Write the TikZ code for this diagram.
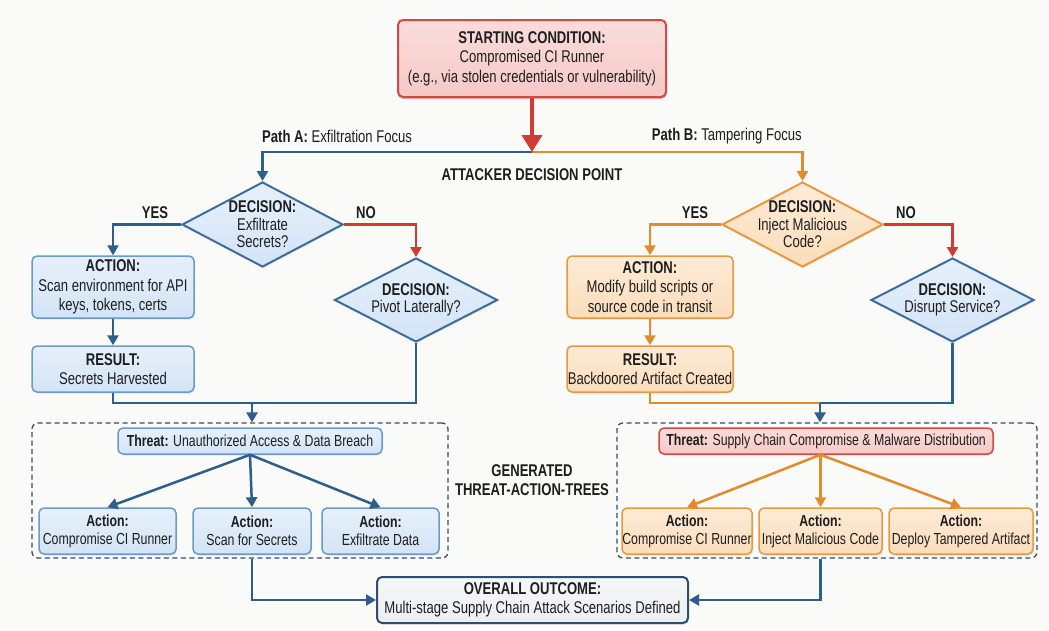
\documentclass[tikz,border=0pt]{standalone}
\usepackage{fontspec}
\setmainfont{Liberation Sans}[FakeStretch=0.77]
\usetikzlibrary{shapes.geometric,arrows.meta,shadows}

\definecolor{bgc}{HTML}{FAFAF9}
\definecolor{ink}{HTML}{1E1E1E}
\definecolor{blueline}{HTML}{2E5E8C}
\definecolor{bluefill}{HTML}{D3E4F6}
\definecolor{bluefilltop}{HTML}{E6F0FB}
\definecolor{blueedge}{HTML}{6B9BCB}
\definecolor{bluedia}{HTML}{3C6D9E}
\definecolor{orangeline}{HTML}{E38B2C}
\definecolor{orangefill}{HTML}{FBDDBB}
\definecolor{orangefilltop}{HTML}{FDEBD6}
\definecolor{orangeedge}{HTML}{E8993F}
\definecolor{redline}{HTML}{D33A33}
\definecolor{redfill}{HTML}{F5C9C7}
\definecolor{redfilltop}{HTML}{FADCDB}
\definecolor{rededge}{HTML}{D24A44}
\definecolor{grayfill}{HTML}{ECEEF1}
\definecolor{grayfilltop}{HTML}{F6F7F8}
\definecolor{darkedge}{HTML}{2F4F70}

\newcommand\fmain{\fontsize{17}{19.5}\selectfont}
\newcommand\fdia{\fontsize{17}{17.5}\selectfont}
\newcommand\fsmall{\fontsize{16}{18}\selectfont}

\tikzset{
  box/.style={rectangle, rounded corners=5pt, line width=1.5pt, align=center,
    inner sep=0pt, text=ink, font=\fmain,
    drop shadow={opacity=0.18, shadow xshift=1pt, shadow yshift=-1.5pt}},
  bluebox/.style={box, draw=blueedge, top color=bluefilltop, bottom color=bluefill},
  orangebox/.style={box, draw=orangeedge, top color=orangefilltop, bottom color=orangefill},
  redbox/.style={box, draw=rededge, top color=redfilltop, bottom color=redfill},
  graybox/.style={box, draw=darkedge, top color=grayfilltop, bottom color=grayfill},
  treebox/.style={font=\fsmall},
  dia/.style={diamond, inner sep=0pt, line width=2pt,
    drop shadow={opacity=0.15, shadow xshift=1pt, shadow yshift=-1.5pt}},
  bluedia/.style={dia, draw=bluedia, top color=bluefilltop, bottom color=bluefill},
  orangedia/.style={dia, draw=orangeedge, top color=orangefilltop, bottom color=orangefill},
  diatext/.style={align=center, text=ink, font=\fdia, inner sep=0pt},
  label/.style={text=ink, font=\fmain, inner sep=0pt},
  cont/.style={rectangle, rounded corners=6pt, draw=darkedge, line width=1.3pt,
    dash pattern=on 5pt off 3.5pt, inner sep=0pt},
  conn/.style={line width=2.5pt, -{Triangle[length=10pt,width=11pt]}},
  plain/.style={line width=2.5pt},
}

\begin{document}
\begin{tikzpicture}[x=1pt,y=-1pt]
  \fill[bgc] (0,0) rectangle (1049,630);
  \useasboundingbox (0,0) rectangle (1049,630);

  % starting condition
  \node[redbox, line width=2pt, minimum width=268pt, minimum height=77pt,
        drop shadow={opacity=0.3, fill=redline, shadow xshift=0pt, shadow yshift=-2pt}]
    (start) at (532,58.5)
    {\textbf{STARTING CONDITION:}\\Compromised CI Runner\\(e.g., via stolen credentials or vulnerability)};
  \coordinate (split) at (532,152);

  % path labels
  \node[label, anchor=west] (pathA) at (262,136) {\textbf{Path A:} Exfiltration Focus};
  \node[label, anchor=east] (pathB) at (802,136) {\textbf{Path B:} Tampering Focus};
  \node[label, font=\fmain\bfseries] (adp) at (532,175) {ATTACKER DECISION POINT};

  % decisions
  \node[bluedia, minimum width=161pt, minimum height=85pt] (d1) at (262.5,224.5) {};
  \node[diatext] (d1t) at (d1.center) {\textbf{DECISION:}\\Exfiltrate\\Secrets?};
  \node[bluedia, minimum width=163pt, minimum height=84pt] (d2) at (416,300) {};
  \node[diatext] (d2t) at (d2.center) {\textbf{DECISION:}\\Pivot Laterally?};
  \node[orangedia, minimum width=161pt, minimum height=85pt] (d3) at (802.5,224.5) {};
  \node[diatext] (d3t) at (d3.center) {\textbf{DECISION:}\\Inject Malicious\\Code?};
  \node[bluedia, minimum width=163pt, minimum height=84pt] (d4) at (952.5,300) {};
  \node[diatext] (d4t) at (d4.center) {\textbf{DECISION:}\\Disrupt Service?};

  % yes / no labels
  \node[label, font=\fmain\bfseries] (yesA) at (155,213) {YES};
  \node[label, font=\fmain\bfseries] (noA) at (366,213) {NO};
  \node[label, font=\fmain\bfseries] (yesB) at (695,213) {YES};
  \node[label, font=\fmain\bfseries] (noB) at (906,213) {NO};

  % actions and results
  \node[bluebox, minimum width=162pt, minimum height=62pt] (aA) at (113,287)
    {\textbf{ACTION:}\\Scan environment for API\\keys, tokens, certs};
  \node[bluebox, minimum width=162pt, minimum height=46pt] (rA) at (113,369)
    {\textbf{RESULT:}\\Secrets Harvested};
  \node[orangebox, minimum width=166pt, minimum height=62pt] (aB) at (650,287)
    {\textbf{ACTION:}\\Modify build scripts or\\source code in transit};
  \node[orangebox, minimum width=166pt, minimum height=46pt] (rB) at (650,369)
    {\textbf{RESULT:}\\Backdoored Artifact Created};

  % threat-action trees
  \node[cont, minimum width=416pt, minimum height=135pt] (contA) at (240,490.5) {};
  \node[cont, minimum width=420pt, minimum height=135pt] (contB) at (827,490.5) {};

  \node[bluebox, treebox, minimum width=264pt, minimum height=26pt] (tA) at (250,441)
    {\textbf{Threat:} Unauthorized Access \& Data Breach};
  \node[bluebox, treebox, minimum width=137pt, minimum height=46pt] (a1) at (107.5,531)
    {\textbf{Action:}\\Compromise CI Runner};
  \node[bluebox, treebox, minimum width=118pt, minimum height=46pt] (a2) at (252,531)
    {\textbf{Action:}\\Scan for Secrets};
  \node[bluebox, treebox, minimum width=117pt, minimum height=46pt] (a3) at (380.5,531)
    {\textbf{Action:}\\Exfiltrate Data};

  \node[redbox, treebox, minimum width=334pt, minimum height=26pt] (tB) at (826,441)
    {\textbf{Threat:} Supply Chain Compromise \& Malware Distribution};
  \node[orangebox, treebox, minimum width=130pt, minimum height=46pt] (b1) at (687,531)
    {\textbf{Action:}\\Compromise CI Runner};
  \node[orangebox, treebox, minimum width=123pt, minimum height=46pt] (b2) at (820.5,531)
    {\textbf{Action:}\\Inject Malicious Code};
  \node[orangebox, treebox, minimum width=144pt, minimum height=46pt] (b3) at (961,531)
    {\textbf{Action:}\\Deploy Tampered Artifact};

  \node[label, align=center, font=\fmain\bfseries] (gen) at (532,480)
    {GENERATED\\THREAT-ACTION-TREES};

  % outcome
  \node[graybox, line width=2pt, minimum width=311pt, minimum height=46pt] (out) at (532.5,600)
    {\textbf{OVERALL OUTCOME:}\\Multi-stage Supply Chain Attack Scenarios Defined};

  % main split
  \draw[blueline, conn] (split) -| (d1.north);
  \draw[orangeline, conn] (split) -| (d3.north);
  \draw[redline, line width=4pt, -{Triangle[length=17pt,width=20pt]}] (start.south) -- (split);

  % path A flow
  \draw[blueline, conn] (d1.west) -| (aA.north);
  \draw[redline, conn] (d1.east) -| (d2.north);
  \draw[blueline, conn] (aA.south) -- (rA.north);
  \coordinate (jA) at (252,403);
  \draw[blueline, plain] (rA.south) |- (jA);
  \draw[blueline, plain] (d2.south) |- (jA);
  \draw[blueline, conn] (jA) -- (jA |- contA.north);

  % path B flow
  \draw[orangeline, conn] (d3.west) -| (aB.north);
  \draw[redline, conn] (d3.east) -| (d4.north);
  \draw[orangeline, conn] (aB.south) -- (rB.north);
  \coordinate (jB) at (820,403);
  \draw[orangeline, plain] (rB.south) |- (jB);
  \draw[blueline, plain] (d4.south) |- (jB);
  \draw[blueline, conn] (jB) -- (jB |- contB.north);

  % tree edges
  \draw[blueline, conn] (tA.south) -- (a1.north);
  \draw[blueline, conn] (tA.south) -- (a2.north);
  \draw[blueline, conn] (tA.south) -- (a3.north);
  \draw[orangeline, conn] (b2.north |- tB.south) -- (b1.north);
  \draw[orangeline, conn] (b2.north |- tB.south) -- (b2.north);
  \draw[orangeline, conn] (b2.north |- tB.south) -- (b3.north);

  % to outcome
  \draw[blueline, conn] (a2.south |- contA.south) |- (out.west);
  \draw[blueline, conn] (b2.south |- contB.south) |- (out.east);
\end{tikzpicture}
\end{document}
